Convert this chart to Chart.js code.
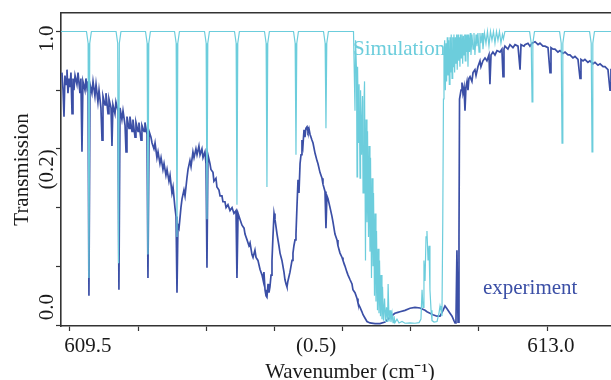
<!DOCTYPE html>
<html>
<head>
<meta charset="utf-8">
<script src="https://cdn.jsdelivr.net/npm/chart.js@4/dist/chart.umd.min.js"></script>
<style>
  html, body { margin: 0; padding: 0; background: #fff; overflow: hidden; }
  #wrap { width: 616px; height: 380px; }
</style>
</head>
<body>
<div id="wrap"><canvas id="chart"></canvas></div>
<script>
// --- data ---
const xTicks = [609.5, 610.0, 610.5, 611.0, 611.5, 612.0, 612.5, 613.0];
const yTicks = [0, 0.2, 0.4, 0.6, 0.8, 1.0];
const xTickLabels = ['609.5', '(0.5)', '613.0'];
const xTickLabelAt = [609.632, 611.305, 613.029];
const yTickLabels = ['1.0', '(0.2)', '0.0'];
const yTickLabelAt = [0.976, 0.53, 0.061];
const xTitle = 'Wavenumber (cm⁻¹)';
const yTitle = 'Transmission';

// simulation (cyan): [wavenumber, transmission]
const simulation = [
  [609.430, 1.0],
  [609.621, 1.0], [609.633, 0.96], [609.639, 0.16], [609.645, 0.96], [609.657, 1.0],
  [609.838, 1.0], [609.850, 0.96], [609.856, 0.21], [609.862, 0.96], [609.874, 1.0],
  [610.054, 1.0], [610.066, 0.96], [610.072, 0.24], [610.078, 0.96], [610.090, 1.0],
  [610.267, 1.0], [610.279, 0.96], [610.285, 0.30], [610.291, 0.96], [610.303, 1.0],
  [610.487, 1.0], [610.499, 0.96], [610.505, 0.36], [610.511, 0.96], [610.523, 1.0],
  [610.707, 1.0], [610.719, 0.96], [610.725, 0.41], [610.731, 0.96], [610.743, 1.0],
  [610.927, 1.0], [610.939, 0.96], [610.945, 0.47], [610.951, 0.96], [610.963, 1.0],
  [611.140, 1.0], [611.152, 0.96], [611.158, 0.58], [611.164, 0.96], [611.176, 1.0],
  [611.360, 1.0], [611.372, 0.96], [611.378, 0.67], [611.384, 0.96], [611.396, 1.0],
  [611.580, 1.0], [611.591, 0.73], [611.595, 0.97], [611.602, 0.87], [611.606, 0.505],
  [611.610, 0.88], [611.617, 0.62], [611.621, 0.82], [611.628, 0.50], [611.632, 0.80],
  [611.639, 0.58], [611.646, 0.78], [611.650, 0.45], [611.657, 0.76], [611.661, 0.83],
  [611.668, 0.22], [611.672, 0.70], [611.679, 0.35], [611.683, 0.66], [611.690, 0.30],
  [611.694, 0.61], [611.701, 0.25], [611.705, 0.57], [611.712, 0.16], [611.716, 0.50],
  [611.723, 0.20], [611.727, 0.45], [611.734, 0.10], [611.738, 0.38], [611.745, 0.08],
  [611.749, 0.32], [611.756, 0.05], [611.760, 0.26], [611.767, 0.04], [611.771, 0.22],
  [611.778, 0.03], [611.782, 0.17], [611.789, 0.02], [611.793, 0.13], [611.800, 0.015],
  [611.808, 0.09], [611.815, 0.01], [611.822, 0.06], [611.830, 0.01], [611.834, 0.14],
  [611.841, 0.012], [611.848, 0.05], [611.855, 0.01], [611.863, 0.04], [611.870, 0.008],
  [611.877, 0.03], [611.884, 0.008], [611.899, 0.02], [611.914, 0.007], [611.936, 0.012],
  [611.958, 0.006], [611.995, 0.007], [612.031, 0.006], [612.061, 0.008], [612.075, 0.02],
  [612.083, 0.12], [612.090, 0.06], [612.097, 0.22], [612.105, 0.15], [612.112, 0.30],
  [612.119, 0.32], [612.127, 0.22], [612.134, 0.27], [612.141, 0.12], [612.149, 0.05],
  [612.156, 0.015], [612.171, 0.01], [612.193, 0.012], [612.207, 0.04], [612.215, 0.065],
  [612.222, 0.05], [612.229, 0.03], [612.235, 0.35], [612.240, 0.77], [612.244, 0.93],
  [612.249, 0.97], [612.254, 0.80], [612.259, 0.96], [612.263, 0.83], [612.268, 0.98],
  [612.273, 0.85], [612.278, 0.97], [612.283, 0.82], [612.288, 0.98], [612.293, 0.86],
  [612.297, 0.99], [612.303, 0.84], [612.308, 0.98], [612.312, 0.88], [612.317, 0.99],
  [612.322, 0.86], [612.327, 0.98], [612.332, 0.89], [612.337, 0.99], [612.341, 0.87],
  [612.347, 0.99], [612.352, 0.90], [612.356, 0.98], [612.361, 0.88], [612.366, 0.99],
  [612.371, 0.91], [612.376, 0.99], [612.381, 0.89], [612.386, 0.985], [612.391, 0.92],
  [612.396, 0.99], [612.400, 0.90], [612.405, 0.99], [612.410, 0.93], [612.415, 0.99],
  [612.420, 0.88], [612.425, 0.99], [612.431, 0.93], [612.437, 0.995], [612.442, 0.92],
  [612.449, 0.99], [612.457, 0.94], [612.464, 0.995], [612.471, 0.92], [612.479, 0.99],
  [612.486, 0.95], [612.493, 0.995], [612.501, 0.93], [612.508, 0.995], [612.515, 0.96],
  [612.523, 0.995], [612.530, 0.94], [612.541, 0.995], [612.552, 0.96], [612.563, 1.0],
  [612.574, 0.95], [612.585, 1.0], [612.596, 0.97], [612.607, 1.0], [612.618, 0.96],
  [612.629, 1.0], [612.640, 0.97], [612.651, 1.0], [612.662, 0.96], [612.673, 0.99],
  [612.680, 0.975], [612.691, 1.0],
  [612.872, 1.0], [612.884, 0.96], [612.890, 0.76], [612.896, 0.96], [612.908, 1.0],
  [613.092, 1.0], [613.104, 0.96], [613.110, 0.62], [613.116, 0.96], [613.128, 1.0],
  [613.312, 1.0], [613.324, 0.96], [613.330, 0.59], [613.336, 0.96], [613.348, 1.0],
  [613.510, 1.0]
];

// experiment (dark blue): [wavenumber, transmission]
const experiment = [
  [609.441, 0.86], [609.449, 0.80], [609.456, 0.71], [609.463, 0.85], [609.471, 0.82],
  [609.478, 0.87], [609.485, 0.79], [609.493, 0.84], [609.500, 0.81], [609.507, 0.86],
  [609.515, 0.72], [609.522, 0.84], [609.529, 0.80], [609.537, 0.85], [609.551, 0.82],
  [609.559, 0.86], [609.573, 0.79], [609.580, 0.84], [609.588, 0.59], [609.595, 0.83],
  [609.610, 0.80], [609.617, 0.84], [609.624, 0.81], [609.632, 0.83], [609.639, 0.10],
  [609.647, 0.82], [609.661, 0.79], [609.669, 0.83], [609.683, 0.78], [609.691, 0.82],
  [609.705, 0.76], [609.713, 0.80], [609.727, 0.74], [609.735, 0.63], [609.742, 0.78],
  [609.757, 0.75], [609.764, 0.79], [609.779, 0.72], [609.786, 0.77], [609.801, 0.74],
  [609.808, 0.61], [609.815, 0.75], [609.830, 0.72], [609.837, 0.76], [609.852, 0.73],
  [609.859, 0.12], [609.867, 0.74], [609.881, 0.70], [609.889, 0.73], [609.904, 0.68],
  [609.911, 0.59], [609.918, 0.71], [609.933, 0.67], [609.940, 0.71], [609.955, 0.66],
  [609.962, 0.70], [609.977, 0.64], [609.984, 0.69], [609.999, 0.66], [610.006, 0.69],
  [610.021, 0.63], [610.028, 0.68], [610.043, 0.66], [610.050, 0.69], [610.065, 0.65],
  [610.072, 0.16], [610.080, 0.66], [610.094, 0.64], [610.102, 0.62], [610.116, 0.60],
  [610.124, 0.62], [610.138, 0.57], [610.146, 0.59], [610.160, 0.55], [610.168, 0.57],
  [610.182, 0.53], [610.190, 0.55], [610.204, 0.51], [610.212, 0.53], [610.226, 0.49],
  [610.234, 0.51], [610.248, 0.45], [610.256, 0.47], [610.270, 0.40], [610.278, 0.37],
  [610.285, 0.11], [610.292, 0.34], [610.300, 0.33], [610.314, 0.40], [610.322, 0.43],
  [610.336, 0.46], [610.344, 0.44], [610.358, 0.50], [610.366, 0.53], [610.380, 0.56],
  [610.388, 0.54], [610.402, 0.59], [610.410, 0.57], [610.424, 0.60], [610.432, 0.58],
  [610.446, 0.61], [610.454, 0.58], [610.468, 0.60], [610.476, 0.57], [610.490, 0.59],
  [610.498, 0.55], [610.505, 0.195], [610.512, 0.58], [610.527, 0.55], [610.534, 0.53],
  [610.549, 0.52], [610.556, 0.49], [610.571, 0.50], [610.578, 0.47], [610.593, 0.46],
  [610.601, 0.44], [610.615, 0.44], [610.622, 0.42], [610.637, 0.42], [610.645, 0.40],
  [610.659, 0.41], [610.674, 0.39], [610.689, 0.40], [610.703, 0.38], [610.718, 0.39],
  [610.725, 0.16], [610.733, 0.38], [610.747, 0.36], [610.762, 0.34], [610.777, 0.33],
  [610.784, 0.31], [610.799, 0.29], [610.813, 0.27], [610.821, 0.28], [610.835, 0.24],
  [610.843, 0.23], [610.857, 0.255], [610.865, 0.23], [610.879, 0.22], [610.894, 0.19],
  [610.909, 0.17], [610.916, 0.155], [610.923, 0.18], [610.931, 0.12], [610.938, 0.10],
  [610.945, 0.095], [610.953, 0.14], [610.960, 0.11], [610.967, 0.13], [610.975, 0.17],
  [610.982, 0.22], [610.989, 0.30], [610.997, 0.38], [611.004, 0.36], [611.019, 0.31],
  [611.033, 0.27], [611.041, 0.245], [611.055, 0.22], [611.070, 0.18], [611.077, 0.155],
  [611.085, 0.14], [611.092, 0.13], [611.099, 0.15], [611.114, 0.18], [611.129, 0.22],
  [611.136, 0.245], [611.143, 0.27], [611.151, 0.29], [611.158, 0.31], [611.165, 0.40],
  [611.173, 0.495], [611.180, 0.45], [611.188, 0.55], [611.195, 0.58], [611.202, 0.63],
  [611.209, 0.61], [611.217, 0.665], [611.224, 0.64], [611.231, 0.67], [611.239, 0.675],
  [611.246, 0.66], [611.253, 0.67], [611.261, 0.65], [611.275, 0.63], [611.283, 0.62],
  [611.298, 0.585], [611.312, 0.56], [611.319, 0.55], [611.334, 0.52], [611.349, 0.50],
  [611.356, 0.48], [611.371, 0.455], [611.378, 0.33], [611.385, 0.44], [611.393, 0.43],
  [611.408, 0.40], [611.422, 0.37], [611.430, 0.35], [611.444, 0.31], [611.459, 0.29],
  [611.466, 0.27], [611.481, 0.245], [611.496, 0.23], [611.503, 0.22], [611.518, 0.20],
  [611.532, 0.18], [611.540, 0.17], [611.554, 0.155], [611.569, 0.14], [611.576, 0.12],
  [611.591, 0.11], [611.606, 0.09], [611.613, 0.075], [611.628, 0.06], [611.642, 0.045],
  [611.650, 0.035], [611.664, 0.024], [611.679, 0.012], [611.701, 0.007], [611.738, 0.005],
  [611.774, 0.005], [611.811, 0.01], [611.833, 0.02], [611.848, 0.027], [611.870, 0.035],
  [611.884, 0.04], [611.906, 0.043], [611.921, 0.045], [611.958, 0.05], [611.995, 0.057],
  [612.031, 0.06], [612.068, 0.058], [612.105, 0.05], [612.119, 0.045], [612.141, 0.04],
  [612.163, 0.035], [612.193, 0.03], [612.215, 0.03], [612.237, 0.05], [612.251, 0.065],
  [612.266, 0.055], [612.288, 0.04], [612.303, 0.03], [612.317, 0.015], [612.325, 0.007],
  [612.332, 0.02], [612.339, 0.255], [612.347, 0.01], [612.354, 0.30], [612.358, 0.77],
  [612.361, 0.77], [612.369, 0.80], [612.376, 0.826], [612.383, 0.79], [612.391, 0.81],
  [612.398, 0.73], [612.405, 0.81], [612.413, 0.83], [612.420, 0.80], [612.427, 0.84],
  [612.435, 0.846], [612.449, 0.83], [612.457, 0.86], [612.471, 0.87], [612.479, 0.85],
  [612.493, 0.88], [612.508, 0.90], [612.515, 0.88], [612.530, 0.90], [612.545, 0.91],
  [612.559, 0.90], [612.574, 0.92], [612.581, 0.82], [612.589, 0.92], [612.603, 0.93],
  [612.618, 0.92], [612.633, 0.935], [612.655, 0.93], [612.669, 0.94], [612.677, 0.846],
  [612.684, 0.94], [612.691, 0.95], [612.713, 0.94], [612.728, 0.955], [612.750, 0.945],
  [612.765, 0.955], [612.787, 0.95], [612.802, 0.87], [612.809, 0.955], [612.831, 0.95],
  [612.838, 0.955], [612.860, 0.96], [612.875, 0.95], [612.890, 0.96], [612.912, 0.965],
  [612.934, 0.955], [612.948, 0.96], [612.970, 0.95], [612.985, 0.95], [613.007, 0.945],
  [613.022, 0.86], [613.029, 0.945], [613.044, 0.94], [613.058, 0.94], [613.080, 0.93],
  [613.095, 0.935], [613.117, 0.925], [613.132, 0.93], [613.154, 0.92], [613.168, 0.92],
  [613.190, 0.91], [613.205, 0.915], [613.227, 0.905], [613.242, 0.84], [613.249, 0.905],
  [613.264, 0.90], [613.278, 0.905], [613.300, 0.895], [613.315, 0.90], [613.337, 0.89],
  [613.352, 0.895], [613.374, 0.885], [613.389, 0.89], [613.411, 0.88], [613.425, 0.88],
  [613.447, 0.87], [613.462, 0.80], [613.469, 0.87], [613.498, 0.87]
];

// in-plot series names
const seriesNotes = [
  { text: 'Simulation', x: 611.577, y: 0.921, color: '#6ccddc' },
  { text: 'experiment', x: 612.530, y: 0.106, color: '#3b4fa6' }
];

const FONT = '21px "Liberation Serif", "Times New Roman", serif';
const INK = '#1a1a1a';
const FRAME = '#333';

// text labels (tick labels, titles, notes) drawn at scale positions
const textPlugin = {
  id: 'textLabels',
  afterDraw(chart) {
    const { ctx, scales: { x, y } } = chart;
    ctx.save();
    ctx.font = FONT;
    ctx.fillStyle = INK;
    ctx.textAlign = 'center';
    ctx.textBaseline = 'alphabetic';
    xTickLabels.forEach((t, i) => {
      ctx.fillText(t, x.getPixelForValue(xTickLabelAt[i]), x.top + 26);
    });
    ctx.fillText(xTitle, x.getPixelForValue(611.554), x.top + 52);

    yTickLabels.forEach((t, i) => {
      ctx.save();
      ctx.translate(y.right - 8, y.getPixelForValue(yTickLabelAt[i]));
      ctx.rotate(-Math.PI / 2);
      ctx.fillText(t, 0, 0);
      ctx.restore();
    });
    ctx.save();
    ctx.translate(28, (chart.chartArea.top + chart.chartArea.bottom) / 2);
    ctx.rotate(-Math.PI / 2);
    ctx.fillText(yTitle, 0, 0);
    ctx.restore();

    ctx.textAlign = 'left';
    seriesNotes.forEach(n => {
      ctx.fillStyle = n.color;
      ctx.fillText(n.text, x.getPixelForValue(n.x), y.getPixelForValue(n.y));
    });
    ctx.restore();
  }
};

const toXY = pts => pts.map(p => ({ x: p[0], y: p[1] }));

new Chart(document.getElementById('chart'), {
  type: 'line',
  data: {
    datasets: [
      {
        label: 'Simulation',
        data: toXY(simulation),
        borderColor: '#6ccddc',
        borderWidth: 1.2,
        pointRadius: 0,
        tension: 0,
        fill: false
      },
      {
        label: 'experiment',
        data: toXY(experiment),
        borderColor: '#3b4fa6',
        borderWidth: 1.7,
        pointRadius: 0,
        tension: 0,
        fill: false
      }
    ]
  },
  options: {
    responsive: true,
    maintainAspectRatio: false,
    devicePixelRatio: 1,
    animation: false,
    layout: { padding: { top: 13, left: 0, right: 0, bottom: 0 } },
    plugins: { legend: { display: false }, tooltip: { enabled: false } },
    scales: {
      x: {
        type: 'linear',
        min: 609.434,
        max: 613.506,
        afterBuildTicks: s => { s.ticks = xTicks.map(v => ({ value: v })); },
        afterFit: s => { s.height = 54; },
        ticks: { display: false },
        grid: { display: true, drawOnChartArea: false, drawTicks: true, tickLength: 5, tickColor: FRAME, tickWidth: 1.2 },
        border: { display: true, color: FRAME, width: 1.6 }
      },
      xTop: {
        type: 'linear',
        position: 'top',
        min: 609.434,
        max: 613.506,
        afterFit: s => { s.height = 0; },
        ticks: { display: false },
        grid: { display: false, drawTicks: false },
        border: { display: true, color: FRAME, width: 1.6 }
      },
      y: {
        type: 'linear',
        min: -0.0034,
        max: 1.063,
        afterBuildTicks: s => { s.ticks = yTicks.map(v => ({ value: v })); },
        afterFit: s => { s.width = 61; },
        ticks: { display: false },
        grid: { display: true, drawOnChartArea: false, drawTicks: true, tickLength: 5, tickColor: FRAME, tickWidth: 1.2 },
        border: { display: true, color: FRAME, width: 1.6 }
      }
    }
  },
  plugins: [textPlugin]
});
</script>
</body>
</html>
